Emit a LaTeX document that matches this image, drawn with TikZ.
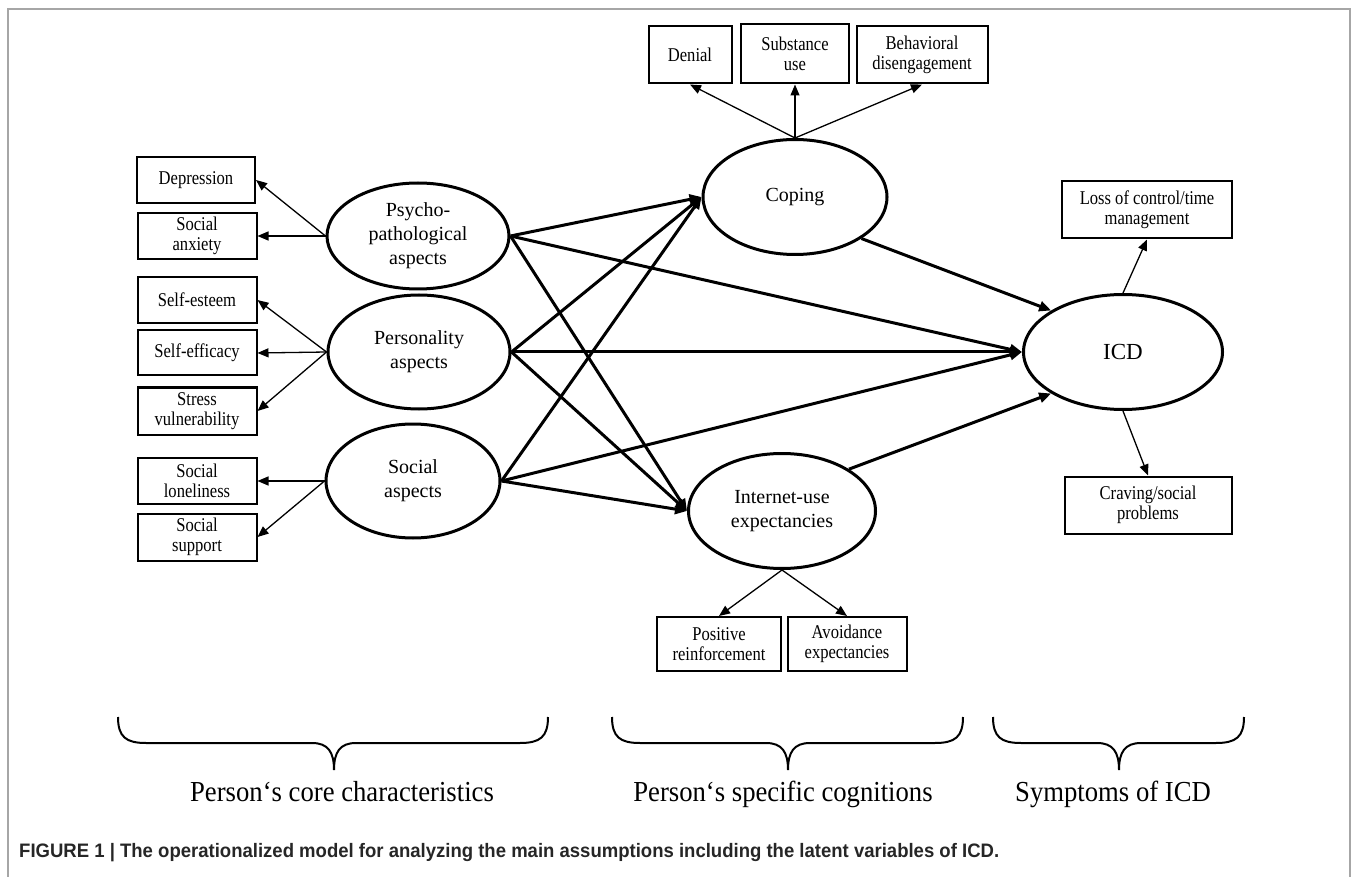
\documentclass[tikz,border=0pt]{standalone}
\usepackage{fontspec}
\setmainfont{Liberation Serif}
\newfontfamily\boxfont[FakeStretch=0.85]{Liberation Serif}
\newfontfamily\labelfont[FakeStretch=0.92]{Liberation Serif}
\newfontfamily\capfont[FakeStretch=0.95]{Liberation Sans}
\usetikzlibrary{shapes.geometric,arrows.meta}

\begin{document}
\begin{tikzpicture}[x=1pt, y=-1pt,
  latent/.style={ellipse, draw, line width=3pt, inner sep=0pt, align=center, font=\fontsize{20}{24}\selectfont},
  itembox/.style={rectangle, draw, line width=2pt, inner sep=0pt, align=center, font=\boxfont\fontsize{19.5}{20}\selectfont},
  effect/.style={line width=3pt, -{Triangle[length=12pt,width=10pt]}},
  load/.style={line width=1.3pt, -{Triangle[length=11pt,width=9pt]}},
  part/.style={anchor=base, font=\labelfont\fontsize{29}{32}\selectfont}]
  \useasboundingbox (0,0) rectangle (1358,877);
  \draw[gray!70, line width=1.5pt] (8,877) |- (1350,9) -- (1350,877);

  % latent variables
  \node[latent, minimum width=182pt, minimum height=106pt] (psy) at (418,236) {Psycho-\\pathological\\aspects};
  \node[latent, minimum width=182pt, minimum height=114pt] (pers) at (419,352) {Personality\\aspects};
  \node[latent, minimum width=174pt, minimum height=114pt] (soc) at (413,481) {Social\\aspects};
  \node[latent, minimum width=184pt, minimum height=115pt] (cop) at (795,197) {Coping};
  \node[latent, minimum width=187pt, minimum height=115pt] (inet) at (782,511) {Internet-use\\expectancies};
  \node[latent, minimum width=199pt, minimum height=115pt, font=\fontsize{23}{27}\selectfont] (icd) at (1123,352) {ICD};

  % indicators
  \node[itembox, minimum width=118pt, minimum height=46pt] (dep) at (196,180) {Depression};
  \node[itembox, minimum width=119pt, minimum height=46pt] (sanx) at (197,236) {Social\\anxiety};
  \node[itembox, minimum width=119pt, minimum height=46pt] (sest) at (197,300) {Self-esteem};
  \node[itembox, minimum width=119pt, minimum height=45pt] (seff) at (197,353) {Self-efficacy};
  \node[itembox, minimum width=119pt, minimum height=47pt] (stress) at (197,411) {Stress\\vulnerability};
  \node[itembox, minimum width=119pt, minimum height=46pt] (slon) at (197,481) {Social\\loneliness};
  \node[itembox, minimum width=119pt, minimum height=47pt] (ssup) at (197,537) {Social\\support};
  \node[itembox, minimum width=83pt, minimum height=57pt] (den) at (690,55) {Denial};
  \node[itembox, minimum width=108pt, minimum height=59pt] (sub) at (795,54) {Substance\\use};
  \node[itembox, minimum width=131pt, minimum height=57pt] (beh) at (922,55) {Behavioral\\disengagement};
  \node[itembox, minimum width=170pt, minimum height=57pt] (loss) at (1147,210) {Loss of control/time\\management};
  \node[itembox, minimum width=167pt, minimum height=57pt] (crav) at (1148,505) {Craving/social\\problems};
  \node[itembox, minimum width=124pt, minimum height=54pt] (pos) at (719,644) {Positive\\reinforcement};
  \node[itembox, minimum width=119pt, minimum height=54pt] (avo) at (847,644) {Avoidance\\expectancies};

  % structural paths
  \foreach \s in {psy,pers,soc} {
    \draw[effect] (\s.east) -- (cop.west);
    \draw[effect] (\s.east) -- (icd.west);
    \draw[effect] (\s.east) -- (inet.west);
  }
  \draw[effect] (cop.-32) -- (icd.150);
  \draw[effect] (inet.32) -- (icd.210);

  % loadings
  \draw[load] (psy.west) -- (dep.east);
  \draw[load] (psy.west) -- (sanx.east);
  \foreach \t in {sest,seff,stress}
    \draw[load] (pers.west) -- (\t.east);
  \draw[load] (soc.west) -- (slon.east);
  \draw[load] (soc.west) -- (ssup.east);
  \foreach \t in {den,sub,beh}
    \draw[load] (cop.north) -- (\t.south);
  \draw[load] (inet.south) -- (pos.north);
  \draw[load] (inet.south) -- (avo.north);
  \draw[load] (icd.north) -- (loss.south);
  \draw[load] (icd.south) -- (crav.north);

  % braces
  \foreach \l/\m/\r in {118/334/548, 612/788/963, 993/1119/1244}
    \draw[line width=2pt] (\l,717) .. controls (\l,737) and (\l+8,743) .. (\l+28,743) -- (\m-22,743)
      .. controls (\m-6,743) and (\m,752) .. (\m,770) .. controls (\m,752) and (\m+6,743) .. (\m+22,743)
      -- (\r-28,743) .. controls (\r-8,743) and (\r,737) .. (\r,717);
  \node[part] (core) at (342,801) {Person‘s core characteristics};
  \node[part] (cogn) at (783,801) {Person‘s specific cognitions};
  \node[part] (symp) at (1113,801) {Symptoms of ICD};

  \node[anchor=west, inner sep=0pt, text=black!85, font=\capfont\bfseries\fontsize{19.5}{22}\selectfont] (caption) at (19,853)
    {FIGURE 1 | The operationalized model for analyzing the main assumptions including the latent variables of ICD.};
\end{tikzpicture}
\end{document}
